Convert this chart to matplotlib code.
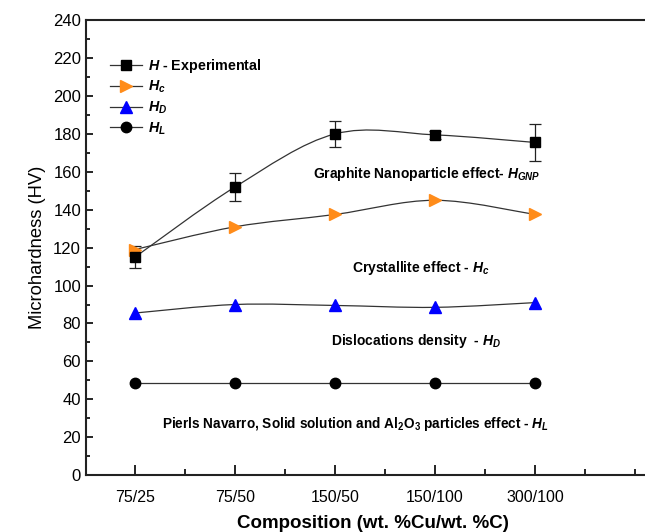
import matplotlib
matplotlib.use("Agg")
import matplotlib.pyplot as plt
from matplotlib.path import Path
from matplotlib.patches import PathPatch
from matplotlib.ticker import MultipleLocator
import numpy as np

# ------------------------------------------------------------
# Data
# ------------------------------------------------------------
compositions = ["75/25", "75/50", "150/50", "150/100", "300/100"]
h_exp = [115, 152, 180, 179.5, 175.5]
h_exp_err = [6, 7.6, 7, 2.2, 9.7]
h_c = [119, 131, 137.5, 145, 137.5]
h_d = [85.5, 90, 89.5, 88.5, 91]
h_l = [48.5, 48.5, 48.5, 48.5, 48.5]

plt.rcParams["font.family"] = ["Liberation Sans", "DejaVu Sans"]
plt.rcParams["mathtext.fontset"] = "custom"
plt.rcParams["mathtext.rm"] = "Liberation Sans:bold"
plt.rcParams["mathtext.it"] = "Liberation Sans:bold:italic"
plt.rcParams["mathtext.bf"] = "Liberation Sans:bold"


def smooth_path(xs, ys):
    # Catmull-Rom curve through the points, drawn as cubic Bezier segments
    pts = np.column_stack([xs, ys]).astype(float)
    n = len(pts)
    verts = [pts[0]]
    codes = [Path.MOVETO]
    for i in range(n - 1):
        p0 = pts[i - 1] if i > 0 else pts[i]
        p1 = pts[i]
        p2 = pts[i + 1]
        p3 = pts[i + 2] if i + 2 < n else pts[i + 1]
        c1 = p1 + (p2 - p0) / 6.0
        c2 = p2 - (p3 - p1) / 6.0
        verts += [c1, c2, p2]
        codes += [Path.CURVE4] * 3
    return Path(verts, codes)


fig = plt.figure(figsize=(6.45, 5.32), dpi=100)
ax = fig.add_axes([0.1333, 0.107, 0.89, 0.855])

x = np.arange(len(compositions))
line_col = "#333333"

for ys in (h_exp, h_c, h_d):
    ax.add_patch(PathPatch(smooth_path(x, ys), facecolor="none",
                           edgecolor=line_col, lw=0.9, zorder=2))
ax.plot(x, h_l, color=line_col, lw=0.9, zorder=2)

ax.errorbar(x, h_exp, yerr=h_exp_err, fmt="none", ecolor="#222222",
            elinewidth=0.9, capsize=4.5, capthick=0.9, zorder=3)
ax.plot(x, h_exp, ls="none", marker="s", ms=7.5, color="black", zorder=5)
ax.plot(x, h_c, ls="none", marker=">", ms=9, color="#ff8c1a", zorder=4)
ax.plot(x, h_d, ls="none", marker="^", ms=9, color="#0000ff", zorder=4)
ax.plot(x, h_l, ls="none", marker="o", ms=7.5, color="black", zorder=4)

# legend handles
legend_specs = [
    ("s", "black", 7.5, r"$H$ - Experimental"),
    (">", "#ff8c1a", 9, r"$H_c$"),
    ("^", "#0000ff", 9, r"$H_D$"),
    ("o", "black", 7.5, r"$H_L$"),
]
handles = []
for mk, col, ms, lab in legend_specs:
    h, = ax.plot([], [], color=line_col, lw=0.9, marker=mk, ms=ms,
                 mfc=col, mec=col, label=lab)
    handles.append(h)
leg = ax.legend(handles=handles, loc="upper left", bbox_to_anchor=(0.02, 0.948),
                frameon=False, handlelength=2.2, handletextpad=0.4,
                labelspacing=0.3, prop={"weight": "bold", "size": 10.3})

# annotations
ax.text(2.92, 159, r"Graphite Nanoparticle effect- $H_{GNP}$",
        fontsize=10, fontweight="bold", ha="center", va="center")
ax.text(2.86, 109, r"Crystallite effect - $H_c$",
        fontsize=10, fontweight="bold", ha="center", va="center")
ax.text(2.81, 70.5, r"Dislocations density  - $H_D$",
        fontsize=10, fontweight="bold", ha="center", va="center")
ax.text(2.2, 27,
        r"Pierls Navarro, Solid solution and Al$_2$O$_3$ particles effect - $H_L$",
        fontsize=9.8, fontweight="bold", ha="center", va="center")

ax.set_xlim(-0.49, 5.25)
ax.set_ylim(0, 240)
ax.set_xticks(x)
ax.set_xticklabels(compositions)
ax.xaxis.set_minor_locator(MultipleLocator(0.5))
ax.yaxis.set_major_locator(MultipleLocator(20))
ax.yaxis.set_minor_locator(MultipleLocator(10))
ax.tick_params(which="both", direction="in", top=False, right=False,
               labelsize=11.5, width=1.2)
ax.tick_params(which="major", axis="x", length=7, pad=11)
ax.tick_params(which="minor", axis="x", length=4)
ax.tick_params(which="major", axis="y", length=5, labelsize=12)
ax.tick_params(which="minor", axis="y", length=3)
for s in ax.spines.values():
    s.set_linewidth(1.5)
    s.set_color("#222222")

ax.set_ylabel("Microhardness (HV)", fontsize=13.2, labelpad=5)
ax.set_xlabel("Composition (wt. %Cu/wt. %C)", fontsize=13.5, fontweight="bold",
              labelpad=7)

fig.savefig("out.png", dpi=100)
